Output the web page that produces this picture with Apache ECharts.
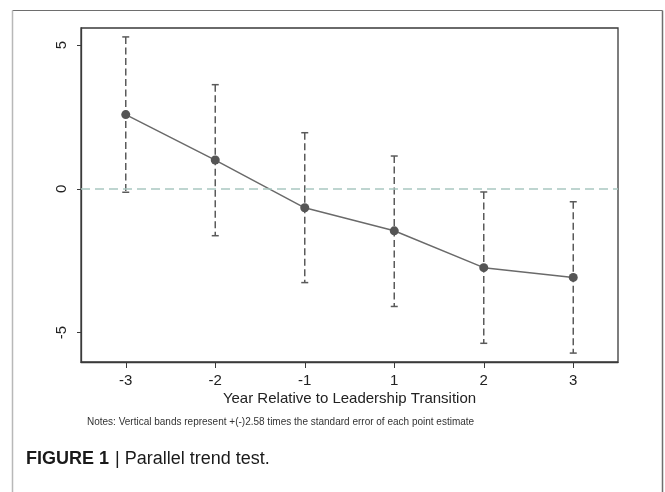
<!DOCTYPE html>
<html>
<head>
<meta charset="utf-8">
<script src="https://cdn.jsdelivr.net/npm/echarts@6/dist/echarts.min.js"></script>
<style>
html,body{margin:0;padding:0;background:#fff;}
#chart{width:665px;height:492px;}
</style>
</head>
<body>
<div id="chart"></div>
<script>
const categories = ['-3', '-2', '-1', '1', '2', '3'];
const estimates = [2.58, 1.00, -0.66, -1.46, -2.74, -3.08];
const upperBounds = [5.28, 3.62, 1.95, 1.14, -0.11, -0.45];
const lowerBounds = [-0.12, -1.63, -3.26, -4.09, -5.37, -5.71];
const yTicks = [-5, 0, 5];
const xAxisTitle = 'Year Relative to Leadership Transition';
const noteText = 'Notes: Vertical bands represent +(-)2.58 times the standard error of each point estimate';
const captionBold = 'FIGURE 1';
const captionRest = '| Parallel trend test.';

const FONT = '"Liberation Sans", Arial, Helvetica, sans-serif';
const chart = echarts.init(document.getElementById('chart'), null, {renderer: 'canvas'});

const errData = categories.map((c, i) => [i, lowerBounds[i], upperBounds[i]]);

const option = {
  backgroundColor: '#ffffff',
  animation: false,
  grid: {
    left: 81, top: 28, right: 47, bottom: 130,
    show: true, borderColor: '#3a3a3a', borderWidth: 1.3, backgroundColor: 'transparent'
  },
  xAxis: {
    type: 'category',
    data: categories,
    boundaryGap: true,
    axisLine: {show: true, onZero: false, lineStyle: {color: '#3a3a3a', width: 1.3}},
    axisTick: {show: true, alignWithLabel: true, length: 6, lineStyle: {color: '#3a3a3a', width: 1}},
    axisLabel: {color: '#222', fontSize: 15, fontFamily: FONT, margin: 11},
    name: xAxisTitle,
    nameLocation: 'middle',
    nameGap: 37,
    nameMoveOverlap: false,
    nameTextStyle: {color: '#222', fontSize: 15, fontFamily: FONT, verticalAlign: 'middle'},
    splitLine: {show: false}
  },
  yAxis: {
    type: 'value',
    min: -6.02,
    max: 5.59,
    axisLine: {show: true, onZero: false, lineStyle: {color: '#3a3a3a', width: 1.3}},
    axisTick: {show: true, length: 4, customValues: yTicks, lineStyle: {color: '#3a3a3a', width: 1}},
    axisLabel: {color: '#222', fontSize: 15, fontFamily: FONT, rotate: 90, margin: 12, customValues: yTicks},
    splitLine: {show: false}
  },
  series: [
    {
      type: 'custom',
      data: errData,
      z: 2,
      renderItem: function (params, api) {
        const x = api.value(0);
        const lo = api.coord([x, api.value(1)]);
        const hi = api.coord([x, api.value(2)]);
        const cap = 3.5;
        const style = {stroke: '#5a5a5a', lineWidth: 1.5};
        return {
          type: 'group',
          children: [
            {type: 'line', shape: {x1: hi[0], y1: hi[1], x2: lo[0], y2: lo[1]},
             style: Object.assign({lineDash: [7, 3.5]}, style)},
            {type: 'line', shape: {x1: hi[0] - cap, y1: hi[1], x2: hi[0] + cap, y2: hi[1]}, style: style},
            {type: 'line', shape: {x1: lo[0] - cap, y1: lo[1], x2: lo[0] + cap, y2: lo[1]}, style: style}
          ]
        };
      }
    },
    {
      type: 'line',
      data: estimates,
      z: 3,
      symbol: 'circle',
      symbolSize: 9,
      itemStyle: {color: '#555555'},
      lineStyle: {color: '#6a6a6a', width: 1.5},
      markLine: {
        silent: true,
        symbol: ['none', 'none'],
        label: {show: false},
        lineStyle: {color: '#a9c8c1', type: [9, 5], width: 1.5},
        data: [{yAxis: 0}]
      }
    }
  ],
  graphic: [
    {type: 'line', shape: {x1: 12.5, y1: 10.5, x2: 662.5, y2: 10.5}, style: {stroke: '#6e6e6e', lineWidth: 1.2}},
    {type: 'line', shape: {x1: 662.5, y1: 10.5, x2: 662.5, y2: 492}, style: {stroke: '#6e6e6e', lineWidth: 1.5}},
    {type: 'line', shape: {x1: 12.5, y1: 10.5, x2: 12.5, y2: 492}, style: {stroke: '#b8b8b8', lineWidth: 1.5}},
    {type: 'text', left: 87, top: 417, style: {text: noteText, font: '10px ' + FONT, fill: '#333'}},
    {type: 'text', left: 26, top: 450, style: {text: captionBold, font: 'bold 18px ' + FONT, fill: '#1a1a1a'}},
    {type: 'text', left: 115, top: 450, style: {text: captionRest, font: '18px ' + FONT, fill: '#1a1a1a'}}
  ]
};
chart.setOption(option);
</script>
</body>
</html>
